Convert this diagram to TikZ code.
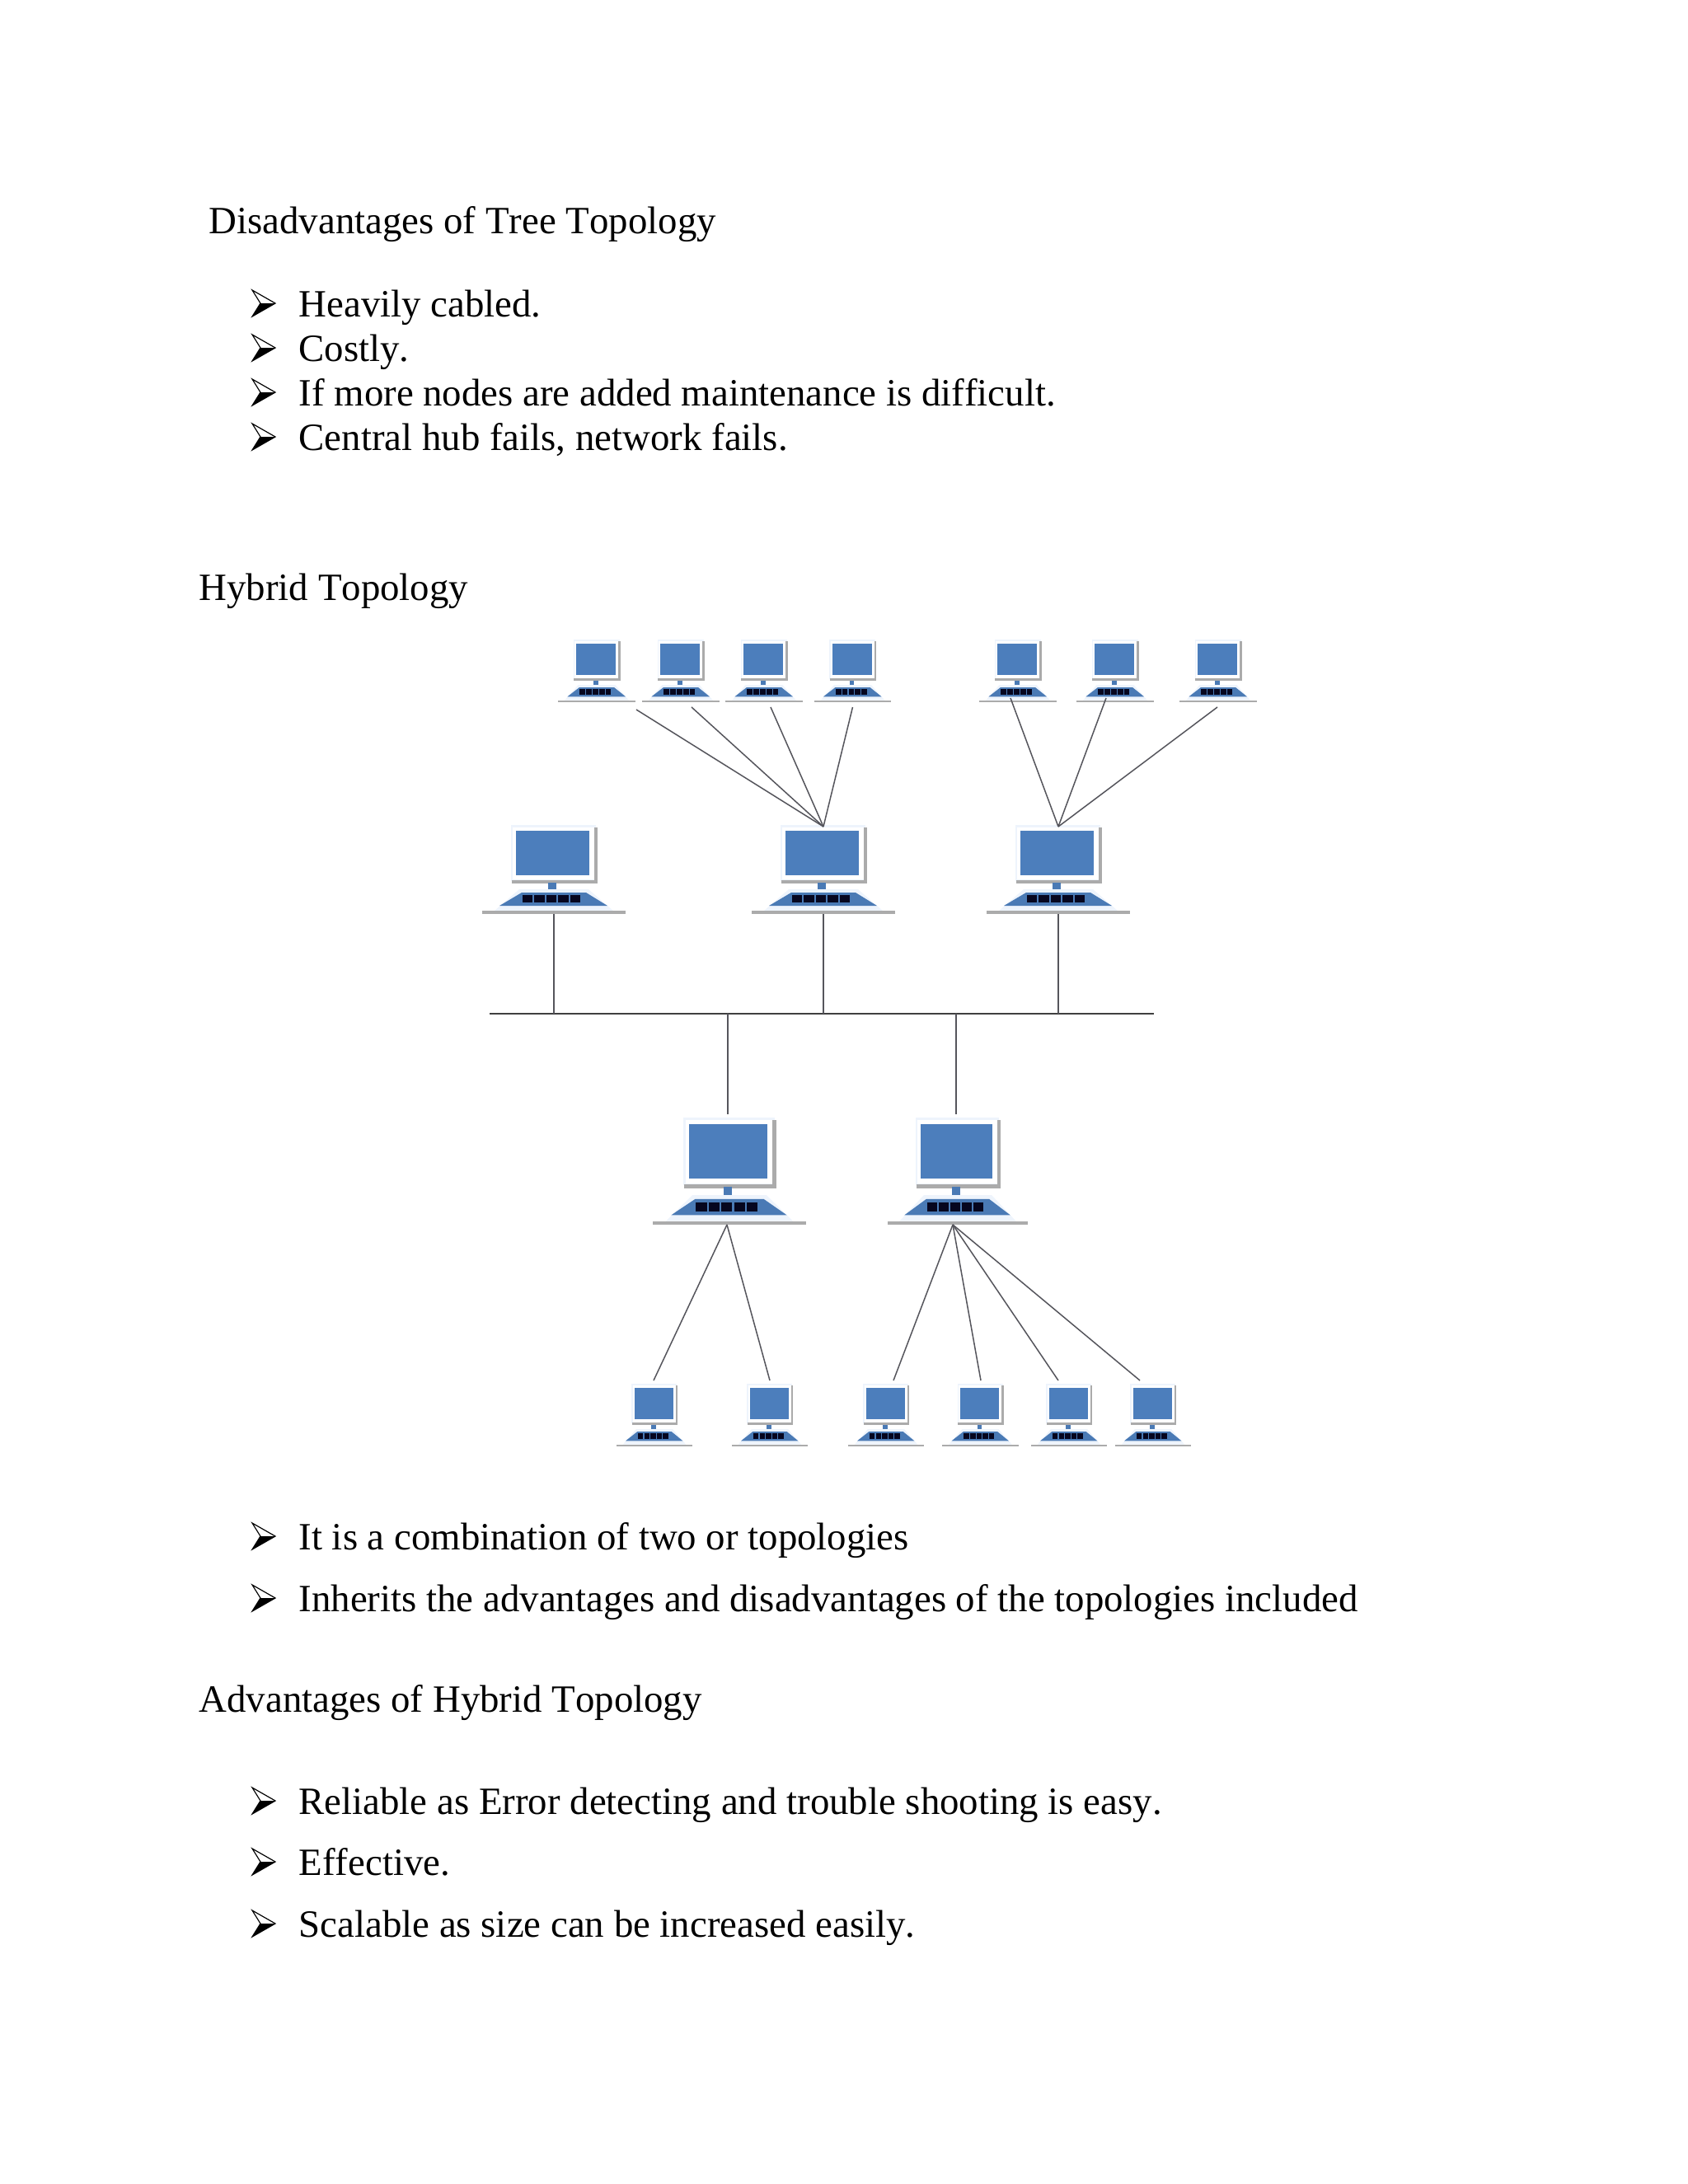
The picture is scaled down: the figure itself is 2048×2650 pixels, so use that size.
\documentclass[tikz,border=0pt]{standalone}
\usepackage{fontspec}
\setmainfont[Kerning=Off]{Liberation Serif}
\definecolor{screenblue}{HTML}{4C7EBC}
\definecolor{deskblue}{HTML}{4A7AB5}
\definecolor{edgeblue}{HTML}{EEF4FC}
\definecolor{rimgrey}{HTML}{ABABAB}
\definecolor{keyblack}{HTML}{06061F}
\definecolor{cablegrey}{HTML}{55555C}
\tikzset{
	textline/.style={anchor=base west,inner sep=0pt,font=\fontsize{14.05}{17}\selectfont},
	cable/.style={draw=cablegrey,line width=0.45pt},
	pccomp/.pic={
		\fill[edgeblue] (-72,-2)--(-42,-28)--(42,-28)--(72,-2)--cycle;
		\fill[edgeblue] (-52,-106) rectangle (51,-38);
		\fill[white] (-50,-103) rectangle (49,-40);
		\fill[rimgrey] (49,-103) rectangle (53,-35);
		\fill[rimgrey] (-51,-39) rectangle (53,-35);
		\fill[screenblue] (-46,-99) rectangle (43,-45);
		\fill[deskblue] (-7,-36) rectangle (3,-28);
		\fill[deskblue] (-39,-24)--(39,-24)--(65,-8)--(-66,-8)--cycle;
		\foreach \k in {0,...,4}
			\fill[keyblack] ({-38+\k*14.4},-21) rectangle +(12.4,9);
		\fill[rimgrey] (-87,-2) rectangle (87,2);
		\coordinate (-base) at (0,2);
		\coordinate (-top) at (0,-104);
		\coordinate (-up) at (-2,-109);
	},
	bulletmark/.pic={
		\draw[line width=0.35pt,fill=white,line join=miter] (0,-32)--(28,-16)--(0,0)--(10,-16)--cycle;
		\fill (10,-16)--(28,-16)--(0,0)--cycle;
	}
}
\begin{document}
\begin{tikzpicture}[x=0.3pt,y=-0.3pt]
\useasboundingbox (0,0) rectangle (2048,2650);

% headings
\node[textline] (tree) at (253,283) {Disadvantages of Tree Topology};
\node[textline] (hybrid) at (241,728) {Hybrid Topology};
\node[textline] (adv) at (241,2077) {Advantages of Hybrid Topology};

% bullet lists
\foreach \y/\txt in {384/Heavily cabled.,438/Costly.,
	492/If more nodes are added maintenance is difficult.,
	546/{Central hub fails, network fails.},
	1880/It is a combination of two or topologies,
	1955/Inherits the advantages and disadvantages of the topologies included,
	2201/Reliable as Error detecting and trouble shooting is easy.,
	2275/Effective.,2350/Scalable as size can be increased easily.}
{
	\pic at (306,\y) {bulletmark};
	\node[textline] (item\y) at (362,\y) {\txt};
}

% computers
\foreach \name/\x in {topA/724,topB/826,topC/927,topD/1034.5,topE/1235,topF/1353,topG/1478}
	\pic[xscale=0.54,yscale=0.707] (\name) at (\x,851) {pccomp};
\foreach \name/\x in {busA/672,busB/999,busC/1284}
	\pic (\name) at (\x,1107) {pccomp};
\pic[xscale=1.07,yscale=1.21] (busD) at (885,1484) {pccomp};
\pic[xscale=0.98,yscale=1.21] (busE) at (1162,1484) {pccomp};
\foreach \name/\x in {lowA/794,lowB/934,lowC/1075,lowD/1189.5,lowE/1297,lowF/1399}
	\pic[xscale=0.53,yscale=0.707] (\name) at (\x,1754) {pccomp};

% free cable ends
\foreach \name/\x/\y in {endA/772/861,endB/839/858,endC/935/858,endD/1034.5/858,
	endE/1226/847,endF/1342/847,endG/1477/858,
	endH/793/1675,endI/934/1675,endJ/1084/1675,endK/1190/1675,endL/1284/1675,endM/1383/1675,
	fanD/882/1486,fanE/1156/1486,busL/594/1230,busR/1400/1230}
	\coordinate (\name) at (\x,\y);

% the bus
\draw[cable,line width=0.7pt,draw=black!75] (busL)--(busR);
\foreach \name in {busA,busB,busC}
	\draw[cable] (\name-base)--(\name-base |- busL);
\foreach \name in {busD,busE}
	\draw[cable] (\name-up |- busL)--(\name-up);

% the branches
\foreach \leaf in {endA,endB,endC,endD}
	\draw[cable] (\leaf)--(busB-top);
\foreach \leaf in {endE,endF,endG}
	\draw[cable] (\leaf)--(busC-top);
\foreach \leaf in {endH,endI}
	\draw[cable] (fanD)--(\leaf);
\foreach \leaf in {endJ,endK,endL,endM}
	\draw[cable] (fanE)--(\leaf);
\end{tikzpicture}
\end{document}
